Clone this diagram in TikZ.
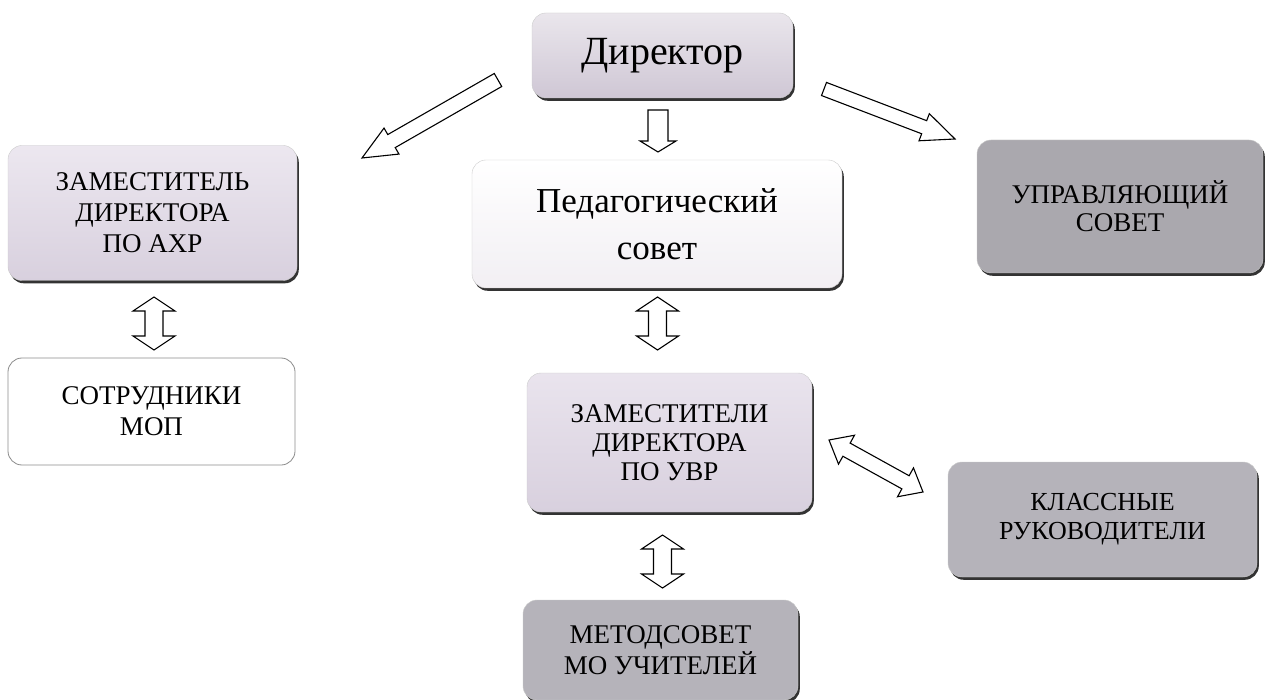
\documentclass[tikz,border=0pt]{standalone}
\usepackage{fontspec}
\newfontfamily\serf{LiberationSerif}[Extension=.ttf, UprightFont=*-Regular]
\usetikzlibrary{shadows,calc}
\definecolor{dirtop}{HTML}{EAE6EC}
\definecolor{dirbot}{HTML}{CFC7D5}
\definecolor{lav}{HTML}{E4DDE9}
\definecolor{lavb}{HTML}{D8D0DE}
\definecolor{pedc}{HTML}{F4F2F5}
\definecolor{darkg}{HTML}{AAA8AE}
\definecolor{midg}{HTML}{B5B3BA}
\tikzset{
  box/.style={rounded corners=14pt, align=center, inner sep=0pt, draw=black!20, line width=0.4pt,
    drop shadow={shadow xshift=1.8pt, shadow yshift=-2.8pt, fill=black!80, opacity=1}},
  plainbox/.style={rounded corners=14pt, align=center, inner sep=0pt, draw=black!45, line width=0.8pt, fill=white},
  blk/.style={draw=black, fill=white, line width=1.1pt, line join=miter},
}
\newcommand{\blkgeom}[2]{%
  \path let \p1=(#1), \p2=(#2) in \pgfextra{%
    \pgfmathsetmacro\tmpang{atan2(\y2-\y1,\x2-\x1)}%
    \pgfmathsetmacro\tmplen{veclen(\x2-\x1,\y2-\y1)}%
    \xdef\blkang{\tmpang}\xdef\blklen{\tmplen}};}
\newcommand{\blkone}[5]{%
  \blkgeom{#1}{#2}%
  \draw[blk,shift={(#1)},rotate=\blkang] (0,#3) -- ({\blklen-#5},#3) -- ({\blklen-#5},#4) -- (\blklen,0)
    -- ({\blklen-#5},-#4) -- ({\blklen-#5},-#3) -- (0,-#3) -- cycle;}
\newcommand{\blktwo}[5]{%
  \blkgeom{#1}{#2}%
  \draw[blk,shift={(#1)},rotate=\blkang] (0,0) -- (#5,#4) -- (#5,#3) -- ({\blklen-#5},#3) -- ({\blklen-#5},#4)
    -- (\blklen,0) -- ({\blklen-#5},-#4) -- ({\blklen-#5},-#3) -- (#5,-#3) -- (#5,-#4) -- cycle;}
\begin{document}
\begin{tikzpicture}[x=1pt,y=-1pt]
\clip (0,0) rectangle (1265,700);
\fill[white] (0,0) rectangle (1265,700);

\node[box, top color=dirtop, bottom color=dirbot, minimum width=261pt, minimum height=85pt,
  font=\serf\fontsize{40}{44}\selectfont] (dir) at (662.5,55.5) {Директор};
\node[box, top color=lav!70!white, bottom color=lavb, minimum width=289pt, minimum height=135pt,
  font=\serf\fontsize{27}{31}\selectfont] (axr) at (152.5,213) {ЗАМЕСТИТЕЛЬ\\ДИРЕКТОРА\\ПО АХР};
\node[plainbox, minimum width=287pt, minimum height=107pt, font=\serf\fontsize{27}{31}\selectfont]
  (mop) at (151.5,411.5) {СОТРУДНИКИ\\МОП};
\node[box, top color=white, bottom color=pedc!85!lav, minimum width=370pt, minimum height=128pt,
  font=\serf\fontsize{35}{47}\selectfont] (ped) at (657,224) {Педагогический\\совет};
\node[box, fill=darkg, minimum width=286pt, minimum height=133pt, font=\serf\fontsize{27}{28}\selectfont]
  (upr) at (1120,206.5) {УПРАВЛЯЮЩИЙ\\СОВЕТ};
\node[box, top color=lav!80!white, bottom color=lavb, minimum width=285pt, minimum height=139pt,
  font=\serf\fontsize{27}{29}\selectfont] (uvr) at (669.5,442.5) {ЗАМЕСТИТЕЛИ\\ДИРЕКТОРА\\ПО УВР};
\node[box, fill=midg, minimum width=309pt, minimum height=115pt, font=\serf\fontsize{26}{29}\selectfont]
  (kl) at (1102.5,519.5) {КЛАССНЫЕ\\РУКОВОДИТЕЛИ};
\node[box, fill=midg, minimum width=275pt, minimum height=100pt, font=\serf\fontsize{27}{31}\selectfont]
  (met) at (660.5,650) {МЕТОДСОВЕТ\\МО УЧИТЕЛЕЙ};

\coordinate (a1s) at (498,80);   \coordinate (a1e) at (362,158);
\coordinate (a2s) at (824,89);   \coordinate (a2e) at (955,139);
\coordinate (a3s) at (658,110);  \coordinate (a3e) at (658,152);
\coordinate (a4s) at (154,297);  \coordinate (a4e) at (154,350);
\coordinate (a5s) at (657.5,297); \coordinate (a5e) at (657.5,350);
\coordinate (a6s) at (662.5,535); \coordinate (a6e) at (662.5,588);
\coordinate (a7s) at (829,440);  \coordinate (a7e) at (923,492);

\blkone{a1s}{a1e}{7.5}{15}{34}
\blkone{a2s}{a2e}{7}{14.5}{33}
\blkone{a3s}{a3e}{10}{18}{11}
\blktwo{a4s}{a4e}{9}{21}{14}
\blktwo{a5s}{a5e}{9}{21}{14}
\blktwo{a6s}{a6e}{9}{21}{14}
\blktwo{a7s}{a7e}{7.5}{16.5}{20}
\end{tikzpicture}
\end{document}
